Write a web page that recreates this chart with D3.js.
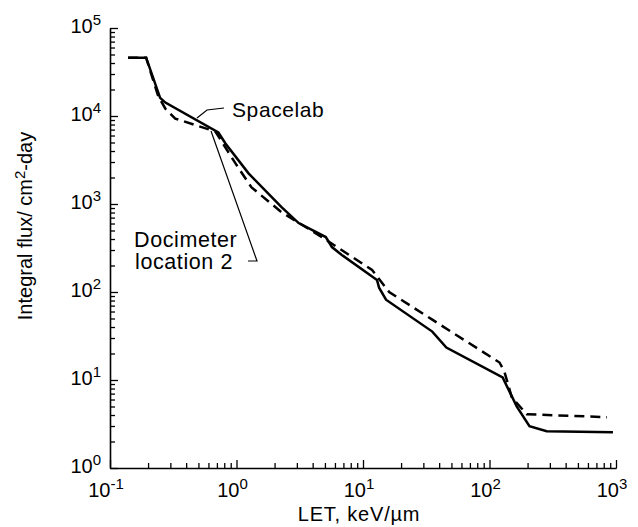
<!DOCTYPE html>
<html>
<head>
<meta charset="utf-8">
<script src="https://cdn.jsdelivr.net/npm/d3@7"></script>
<style>
  body { margin: 0; background: #fff; }
  text { font-family: "Liberation Sans", Arial, sans-serif; fill: #000; }
</style>
</head>
<body>
<script>
// LET values (keV/um) and integral flux (per cm2-day)
var spacelabLET  = [0.139, 0.193, 0.249, 0.274, 0.719, 0.818, 1.245, 2.27, 3.10, 5.08, 5.68, 6.80, 12.9, 13.4, 15.2, 35.3, 45.6, 127, 164, 207, 283, 946];
var spacelabFlux = [46000, 46000, 16100, 14200, 6490, 4870, 2230, 920, 607, 421, 324, 264, 137, 112, 81.7, 35.5, 23.4, 10.7, 5.02, 2.99, 2.62, 2.55];

var dosimLET  = [0.139, 0.193, 0.240, 0.274, 0.328, 0.681, 0.982, 1.31, 2.27, 4.73, 11.8, 16.1, 35.3, 120, 131, 150, 197, 849];
var dosimFlux = [46000, 46000, 17000, 12100, 9350, 6660, 2890, 1550, 807, 421, 178, 100, 48.5, 15.8, 12.5, 6.35, 4.08, 3.78];

// decade exponents for the tick labels
var xExponents = [-1, 0, 1, 2, 3];
var yExponents = [0, 1, 2, 3, 4, 5];

var width = 638, height = 527;

var svg = d3.select("body")
  .append("svg")
    .attr("width", width)
    .attr("height", height);

var x = d3.scaleLog()
  .domain([0.1, 1000])
  .range([110, 616]);

var y = d3.scaleLog()
  .domain([1, 1e5])
  .range([468, 28]);

// minor ticks 2..9 in every decade
function minors(exps) {
  var out = [];
  exps.slice(0, -1).forEach(function(e){
    for (var k = 2; k <= 9; k++) out.push(k * Math.pow(10, e));
  });
  return out;
}
var xMajor = xExponents.map(function(e){ return Math.pow(10, e); });
var yMajor = yExponents.map(function(e){ return Math.pow(10, e); });

// axes, ticks pointing into the plot
svg.append("g")
  .attr("transform", "translate(0," + y(1) + ")")
  .call(d3.axisBottom(x).tickValues(minors(xExponents)).tickSize(-5).tickSizeOuter(0).tickFormat(""))
  .call(function(g){ g.select(".domain").attr("stroke-width", 1.6); });
svg.append("g")
  .attr("transform", "translate(0," + y(1) + ")")
  .call(d3.axisBottom(x).tickValues(xMajor).tickSize(-8).tickSizeOuter(0).tickFormat(""));

svg.append("g")
  .attr("transform", "translate(" + x(0.1) + ",0)")
  .call(d3.axisLeft(y).tickValues(minors(yExponents)).tickSize(-5).tickSizeOuter(0).tickFormat(""))
  .call(function(g){ g.select(".domain").attr("stroke-width", 1.6); });
svg.append("g")
  .attr("transform", "translate(" + x(0.1) + ",0)")
  .call(d3.axisLeft(y).tickValues(yMajor).tickSize(-8).tickSizeOuter(0).tickFormat(""));

svg.selectAll(".tick line").attr("stroke-width", 1.3);

// tick labels with superscripts
svg.selectAll(".xlab")
  .data(xExponents)
  .enter()
  .append("text")
    .attr("class", "xlab")
    .attr("x", function(d){ return x(Math.pow(10, d)) - 4; })
    .attr("y", 497)
    .attr("text-anchor", "middle")
    .style("font-size", "20px")
    .each(function(d){
      var t = d3.select(this);
      t.append("tspan").text("10");
      t.append("tspan").attr("dy", -8).style("font-size", "15px").text(d < 0 ? "-" + (-d) : d);
    });

svg.selectAll(".ylab")
  .data(yExponents)
  .enter()
  .append("text")
    .attr("class", "ylab")
    .attr("x", 101)
    .attr("y", function(d){ return y(Math.pow(10, d)) + 5; })
    .attr("text-anchor", "end")
    .style("font-size", "20px")
    .each(function(d){
      var t = d3.select(this);
      t.append("tspan").text("10");
      t.append("tspan").attr("dy", -8).style("font-size", "15px").text(d);
    });

// axis titles
svg.append("text")
  .attr("x", 359)
  .attr("y", 521)
  .attr("text-anchor", "middle")
  .style("font-size", "20px")
  .style("letter-spacing", "0.8px")
  .text("LET, keV/\u00b5m");

var yTitle = svg.append("text")
  .attr("transform", "translate(32,226) rotate(-90)")
  .attr("text-anchor", "middle")
  .style("font-size", "20px");
yTitle.append("tspan").text("Integral flux/ cm");
yTitle.append("tspan").attr("dy", -7).style("font-size", "15px").text("2");
yTitle.append("tspan").attr("dy", 7).text("-day");

// curves
var line = d3.line()
  .x(function(d){ return x(d[0]); })
  .y(function(d){ return y(d[1]); });

svg.append("path")
  .datum(d3.zip(dosimLET, dosimFlux))
  .attr("fill", "none")
  .attr("stroke", "#000")
  .attr("stroke-width", 2.5)
  .attr("stroke-dasharray", "10,6")
  .attr("d", line);

svg.append("path")
  .datum(d3.zip(spacelabLET, spacelabFlux))
  .attr("fill", "none")
  .attr("stroke", "#000")
  .attr("stroke-width", 2.5)
  .attr("d", line);

// annotations with leader lines
svg.append("path")
  .attr("fill", "none").attr("stroke", "#000").attr("stroke-width", 1.2)
  .attr("d", "M197,118 L207,110 L224,108");
svg.append("text")
  .attr("x", 232).attr("y", 117)
  .style("font-size", "21px")
  .style("letter-spacing", "0.6px")
  .text("Spacelab");

svg.append("path")
  .attr("fill", "none").attr("stroke", "#000").attr("stroke-width", 1.2)
  .attr("d", "M211,131 L257,261 L248,261");
svg.append("text")
  .attr("x", 134).attr("y", 247)
  .style("font-size", "21.5px")
  .style("letter-spacing", "0.6px")
  .text("Docimeter");
svg.append("text")
  .attr("x", 135).attr("y", 269)
  .style("font-size", "21.5px")
  .style("letter-spacing", "0.6px")
  .text("location 2");
</script>
</body>
</html>
